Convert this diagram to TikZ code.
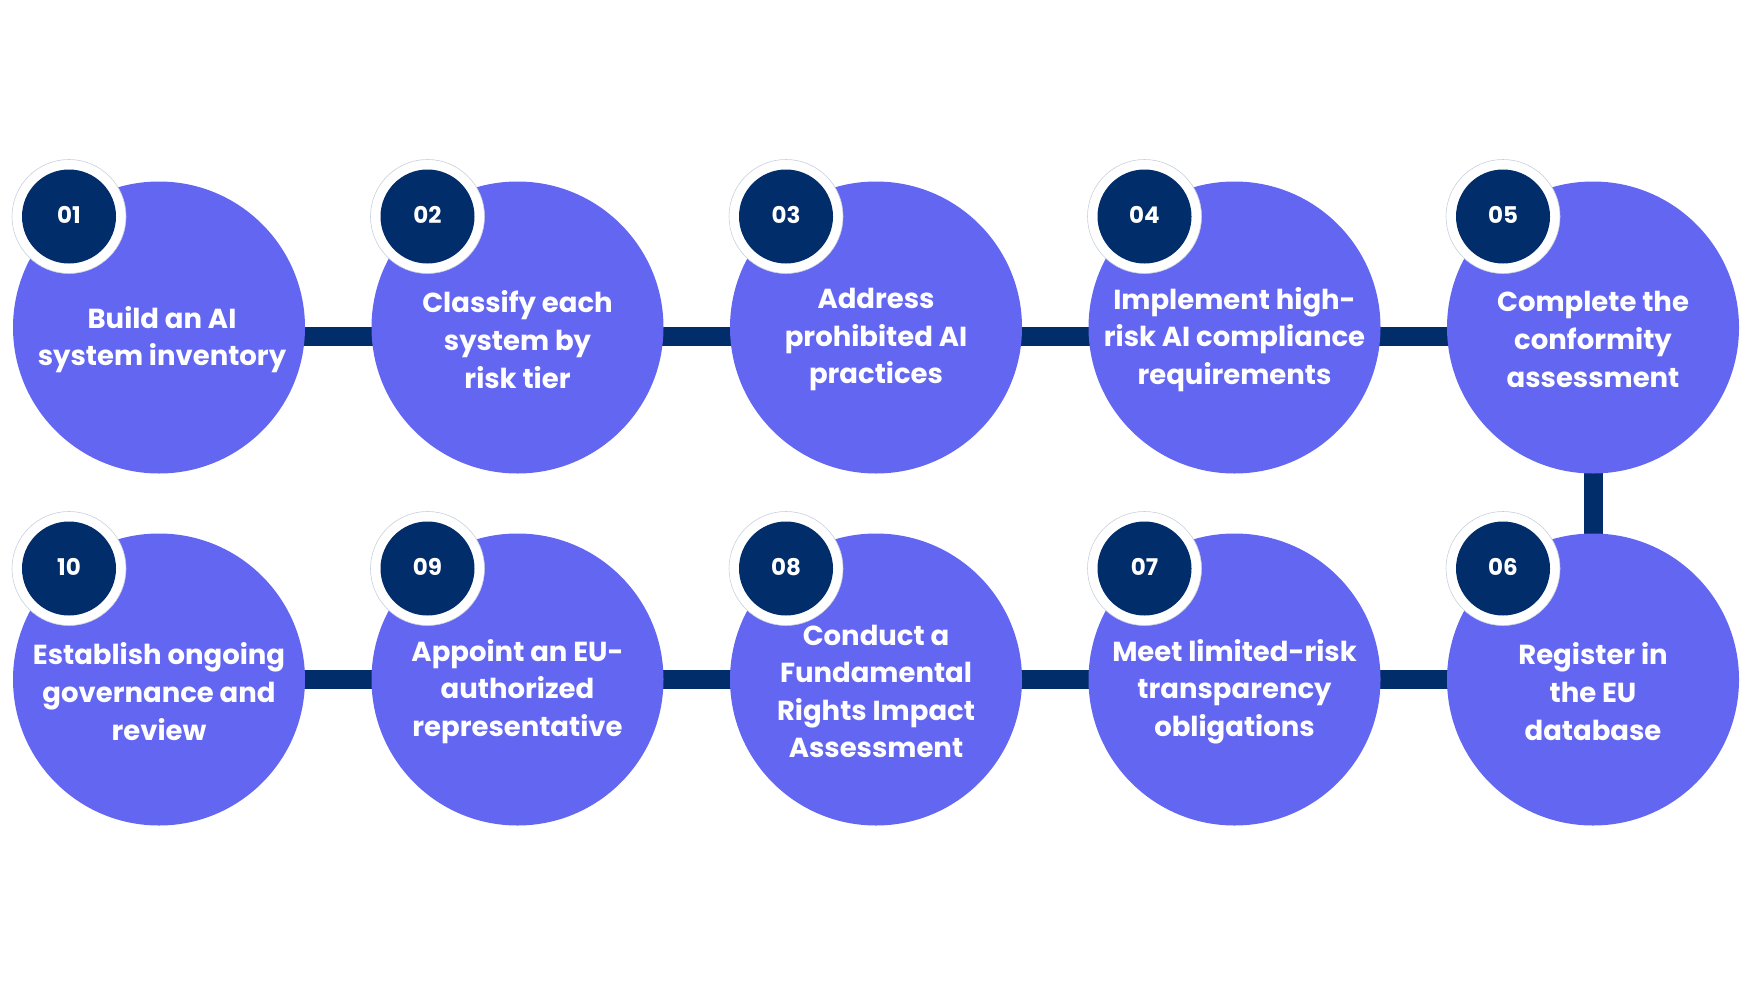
\documentclass[tikz,border=0pt]{standalone}
\usepackage{fontspec}
\setmainfont{Poppins}
\pgfdeclarelayer{background}
\pgfsetlayers{background,main}
\definecolor{stepfill}{RGB}{99,102,241}
\definecolor{navy}{RGB}{1,45,106}
\definecolor{ringedge}{RGB}{200,208,222}
\tikzset{
  stepcircle/.style={circle, fill=stepfill, minimum size=292pt, inner sep=0pt},
  steptext/.style={text=white, font=\bfseries\fontsize{27.5}{37.6}\selectfont, align=center, inner sep=0pt},
  ring/.style={circle, fill=white, draw=ringedge, line width=0.6pt, minimum size=114pt, inner sep=0pt},
  badge/.style={circle, fill=navy, minimum size=94pt, inner sep=0pt},
  badgetext/.style={text=white, font=\bfseries\fontsize{23}{28}\selectfont, inner sep=0pt},
  bar/.style={draw=navy, line width=19pt},
}
\begin{document}
\begin{tikzpicture}[x=1pt,y=-1pt]
\useasboundingbox (0,0) rectangle (1760,990);
% row 1
\node[stepcircle] (c1) at (159,327.5) {};
\node[stepcircle] (c2) at (517.5,327.5) {};
\node[stepcircle] (c3) at (876,327.5) {};
\node[stepcircle] (c4) at (1234.5,327.5) {};
\node[stepcircle] (c5) at (1593,327.5) {};
% row 2
\node[stepcircle] (c6) at (1593,679.5) {};
\node[stepcircle] (c7) at (1234.5,679.5) {};
\node[stepcircle] (c8) at (876,679.5) {};
\node[stepcircle] (c9) at (517.5,679.5) {};
\node[stepcircle] (c10) at (159,679.5) {};
% connectors
\begin{pgfonlayer}{background}
\draw[bar] ([yshift=-9pt]c1.center) -- ([yshift=-9pt]c2.center);
\draw[bar] ([yshift=-9pt]c2.center) -- ([yshift=-9pt]c3.center);
\draw[bar] ([yshift=-9pt]c3.center) -- ([yshift=-9pt]c4.center);
\draw[bar] ([yshift=-9pt]c4.center) -- ([yshift=-9pt]c5.center);
\draw[bar] (c5.center) -- (c6.center);
\draw[bar] (c6.center) -- (c7.center);
\draw[bar] (c7.center) -- (c8.center);
\draw[bar] (c8.center) -- (c9.center);
\draw[bar] (c9.center) -- (c10.center);
\end{pgfonlayer}
% texts
\node[steptext] (t1) at ([xshift=3pt,yshift=-12pt]c1.center) {Build an AI\\system inventory};
\node[steptext] (t2) at ([yshift=-12pt]c2.center) {Classify each\\system by\\risk tier};
\node[steptext] (t3) at ([yshift=-12pt]c3.center) {Address\\prohibited AI\\practices};
\node[steptext] (t4) at ([yshift=-12pt]c4.center) {Implement high-\\risk AI compliance\\requirements};
\node[steptext] (t5) at ([yshift=-12pt]c5.center) {Complete the\\conformity\\assessment};
\node[steptext] (t6) at ([yshift=-12pt]c6.center) {Register in\\the EU\\database};
\node[steptext] (t7) at ([yshift=-12pt]c7.center) {Meet limited-risk\\transparency\\obligations};
\node[steptext] (t8) at ([yshift=-12pt]c8.center) {Conduct a\\Fundamental\\Rights Impact\\Assessment};
\node[steptext] (t9) at ([yshift=-12pt]c9.center) {Appoint an EU-\\authorized\\representative};
\node[steptext] (t10) at ([yshift=-12pt]c10.center) {Establish ongoing\\governance and\\review};
% badges
\foreach \i/\lab in {1/01,2/02,3/03,4/04,5/05,6/06,7/07,8/08,9/09,10/10}{
  \node[ring] (r\i) at ([xshift=-90pt,yshift=111pt]c\i.center) {};
  \node[badge] (b\i) at (r\i.center) {};
  \node[badgetext] (n\i) at ([yshift=1.5pt]b\i.center) {\lab};
}
\end{tikzpicture}
\end{document}
